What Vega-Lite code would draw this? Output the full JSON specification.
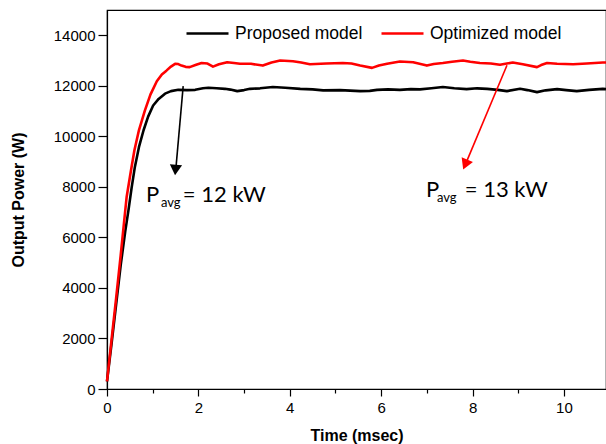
{
  "$schema": "https://vega.github.io/schema/vega-lite/v6.json",
  "autosize": "none",
  "width": 499,
  "height": 379,
  "padding": {"left": 107, "top": 10, "right": 0, "bottom": 55},
  "background": "white",
  "config": {
    "view": {"stroke": "black", "strokeWidth": 1.2},
    "axis": {"domainColor": "black", "tickColor": "black", "labelColor": "black", "titleColor": "black", "labelFont": "Liberation Sans", "titleFont": "Liberation Sans", "labelFontSize": 15, "titleFontSize": 16, "titleFontWeight": "bold", "grid": false, "domainWidth": 1.2, "tickWidth": 1.2, "labelFlush": false}
  },
  "datasets": {
    "curves": [
      {"t": 0, "p": 300, "series": "Proposed model"},
      {"t": 0.1, "p": 1800, "series": "Proposed model"},
      {"t": 0.2, "p": 3350, "series": "Proposed model"},
      {"t": 0.3, "p": 4900, "series": "Proposed model"},
      {"t": 0.4, "p": 6250, "series": "Proposed model"},
      {"t": 0.47, "p": 7080, "series": "Proposed model"},
      {"t": 0.54, "p": 7980, "series": "Proposed model"},
      {"t": 0.61, "p": 8790, "series": "Proposed model"},
      {"t": 0.7, "p": 9580, "series": "Proposed model"},
      {"t": 0.8, "p": 10240, "series": "Proposed model"},
      {"t": 0.9, "p": 10780, "series": "Proposed model"},
      {"t": 1.01, "p": 11220, "series": "Proposed model"},
      {"t": 1.13, "p": 11480, "series": "Proposed model"},
      {"t": 1.27, "p": 11690, "series": "Proposed model"},
      {"t": 1.4, "p": 11790, "series": "Proposed model"},
      {"t": 1.56, "p": 11840, "series": "Proposed model"},
      {"t": 1.75, "p": 11830, "series": "Proposed model"},
      {"t": 1.93, "p": 11840, "series": "Proposed model"},
      {"t": 2.1, "p": 11900, "series": "Proposed model"},
      {"t": 2.22, "p": 11920, "series": "Proposed model"},
      {"t": 2.4, "p": 11900, "series": "Proposed model"},
      {"t": 2.58, "p": 11880, "series": "Proposed model"},
      {"t": 2.7, "p": 11850, "series": "Proposed model"},
      {"t": 2.85, "p": 11790, "series": "Proposed model"},
      {"t": 3.0, "p": 11830, "series": "Proposed model"},
      {"t": 3.13, "p": 11880, "series": "Proposed model"},
      {"t": 3.35, "p": 11900, "series": "Proposed model"},
      {"t": 3.63, "p": 11950, "series": "Proposed model"},
      {"t": 3.9, "p": 11920, "series": "Proposed model"},
      {"t": 4.23, "p": 11880, "series": "Proposed model"},
      {"t": 4.5, "p": 11860, "series": "Proposed model"},
      {"t": 4.73, "p": 11820, "series": "Proposed model"},
      {"t": 5.1, "p": 11830, "series": "Proposed model"},
      {"t": 5.54, "p": 11790, "series": "Proposed model"},
      {"t": 5.75, "p": 11800, "series": "Proposed model"},
      {"t": 5.91, "p": 11840, "series": "Proposed model"},
      {"t": 6.15, "p": 11860, "series": "Proposed model"},
      {"t": 6.41, "p": 11840, "series": "Proposed model"},
      {"t": 6.65, "p": 11870, "series": "Proposed model"},
      {"t": 6.85, "p": 11860, "series": "Proposed model"},
      {"t": 7.1, "p": 11900, "series": "Proposed model"},
      {"t": 7.35, "p": 11950, "series": "Proposed model"},
      {"t": 7.6, "p": 11900, "series": "Proposed model"},
      {"t": 7.87, "p": 11870, "series": "Proposed model"},
      {"t": 8.1, "p": 11900, "series": "Proposed model"},
      {"t": 8.32, "p": 11880, "series": "Proposed model"},
      {"t": 8.55, "p": 11840, "series": "Proposed model"},
      {"t": 8.75, "p": 11790, "series": "Proposed model"},
      {"t": 9.04, "p": 11880, "series": "Proposed model"},
      {"t": 9.2, "p": 11830, "series": "Proposed model"},
      {"t": 9.41, "p": 11750, "series": "Proposed model"},
      {"t": 9.6, "p": 11820, "series": "Proposed model"},
      {"t": 9.85, "p": 11870, "series": "Proposed model"},
      {"t": 10.05, "p": 11830, "series": "Proposed model"},
      {"t": 10.28, "p": 11790, "series": "Proposed model"},
      {"t": 10.55, "p": 11840, "series": "Proposed model"},
      {"t": 10.85, "p": 11880, "series": "Proposed model"},
      {"t": 10.92, "p": 11870, "series": "Proposed model"},
      {"t": 0, "p": 300, "series": "Optimized model"},
      {"t": 0.1, "p": 1950, "series": "Optimized model"},
      {"t": 0.2, "p": 3600, "series": "Optimized model"},
      {"t": 0.3, "p": 5300, "series": "Optimized model"},
      {"t": 0.43, "p": 7600, "series": "Optimized model"},
      {"t": 0.52, "p": 8600, "series": "Optimized model"},
      {"t": 0.6, "p": 9450, "series": "Optimized model"},
      {"t": 0.7, "p": 10250, "series": "Optimized model"},
      {"t": 0.83, "p": 11030, "series": "Optimized model"},
      {"t": 0.95, "p": 11650, "series": "Optimized model"},
      {"t": 1.09, "p": 12180, "series": "Optimized model"},
      {"t": 1.2, "p": 12450, "series": "Optimized model"},
      {"t": 1.3, "p": 12600, "series": "Optimized model"},
      {"t": 1.4, "p": 12760, "series": "Optimized model"},
      {"t": 1.49, "p": 12870, "series": "Optimized model"},
      {"t": 1.56, "p": 12860, "series": "Optimized model"},
      {"t": 1.63, "p": 12800, "series": "Optimized model"},
      {"t": 1.72, "p": 12750, "series": "Optimized model"},
      {"t": 1.81, "p": 12740, "series": "Optimized model"},
      {"t": 1.95, "p": 12830, "series": "Optimized model"},
      {"t": 2.07, "p": 12900, "series": "Optimized model"},
      {"t": 2.2, "p": 12880, "series": "Optimized model"},
      {"t": 2.32, "p": 12760, "series": "Optimized model"},
      {"t": 2.45, "p": 12850, "series": "Optimized model"},
      {"t": 2.63, "p": 12930, "series": "Optimized model"},
      {"t": 2.78, "p": 12900, "series": "Optimized model"},
      {"t": 2.91, "p": 12870, "series": "Optimized model"},
      {"t": 3.15, "p": 12870, "series": "Optimized model"},
      {"t": 3.41, "p": 12800, "series": "Optimized model"},
      {"t": 3.6, "p": 12920, "series": "Optimized model"},
      {"t": 3.79, "p": 13000, "series": "Optimized model"},
      {"t": 4.07, "p": 12970, "series": "Optimized model"},
      {"t": 4.25, "p": 12920, "series": "Optimized model"},
      {"t": 4.44, "p": 12850, "series": "Optimized model"},
      {"t": 4.8, "p": 12880, "series": "Optimized model"},
      {"t": 5.16, "p": 12900, "series": "Optimized model"},
      {"t": 5.35, "p": 12880, "series": "Optimized model"},
      {"t": 5.54, "p": 12800, "series": "Optimized model"},
      {"t": 5.8, "p": 12710, "series": "Optimized model"},
      {"t": 5.95, "p": 12800, "series": "Optimized model"},
      {"t": 6.13, "p": 12870, "series": "Optimized model"},
      {"t": 6.41, "p": 12960, "series": "Optimized model"},
      {"t": 6.7, "p": 12930, "series": "Optimized model"},
      {"t": 7.0, "p": 12800, "series": "Optimized model"},
      {"t": 7.15, "p": 12860, "series": "Optimized model"},
      {"t": 7.35, "p": 12900, "series": "Optimized model"},
      {"t": 7.55, "p": 12950, "series": "Optimized model"},
      {"t": 7.79, "p": 13000, "series": "Optimized model"},
      {"t": 7.95, "p": 12950, "series": "Optimized model"},
      {"t": 8.16, "p": 12900, "series": "Optimized model"},
      {"t": 8.4, "p": 12880, "series": "Optimized model"},
      {"t": 8.6, "p": 12830, "series": "Optimized model"},
      {"t": 8.75, "p": 12880, "series": "Optimized model"},
      {"t": 8.88, "p": 12920, "series": "Optimized model"},
      {"t": 9.1, "p": 12850, "series": "Optimized model"},
      {"t": 9.41, "p": 12740, "series": "Optimized model"},
      {"t": 9.5, "p": 12820, "series": "Optimized model"},
      {"t": 9.63, "p": 12900, "series": "Optimized model"},
      {"t": 9.85, "p": 12870, "series": "Optimized model"},
      {"t": 10.2, "p": 12850, "series": "Optimized model"},
      {"t": 10.5, "p": 12880, "series": "Optimized model"},
      {"t": 10.85, "p": 12920, "series": "Optimized model"},
      {"t": 10.92, "p": 12920, "series": "Optimized model"}
    ],
    "arrows": [
      {"series": "Proposed model", "t": 1.667, "p": 11985, "t2": 1.51, "p2": 8783, "ht": 1.499, "hp": 8664},
      {"series": "Optimized model", "t": 8.753, "p": 12814, "t2": 7.867, "p2": 8988, "ht": 7.84, "hp": 8882}
    ],
    "labels": [
      {"t": 0.853, "p": 7400, "text": "P"},
      {"t": 1.66, "p": 7400, "text": "= 12 kW"},
      {"t": 6.98, "p": 7600, "text": "P"},
      {"t": 7.83, "p": 7600, "text": "= 13 kW"}
    ],
    "subs": [
      {"t": 1.18, "p": 7200, "text": "avg"},
      {"t": 7.22, "p": 7400, "text": "avg"}
    ]
  },
  "layer": [
    {
      "data": {"name": "curves"},
      "mark": {"type": "line", "strokeWidth": 2.6, "interpolate": "linear", "strokeJoin": "round"},
      "encoding": {
        "x": {"field": "t", "type": "quantitative", "scale": {"domain": [0, 10.92], "nice": false, "zero": false},
          "axis": {"title": "Time (msec)", "values": [0,1,2,3,4,5,6,7,8,9,10], "labelExpr": "datum.value % 2 === 0 ? datum.label : ''", "tickSize": {"condition": {"test": "datum.value % 2 === 0", "value": 7}, "value": 4}, "labelPadding": 4, "titlePadding": 12}},
        "y": {"field": "p", "type": "quantitative", "scale": {"domain": [0, 15000], "nice": false},
          "axis": {"title": "Output Power (W)", "values": [0,1000,2000,3000,4000,5000,6000,7000,8000,9000,10000,11000,12000,13000,14000], "format": "d", "labelExpr": "datum.value % 2000 === 0 ? datum.label : ''", "tickSize": {"condition": {"test": "datum.value % 2000 === 0", "value": 9}, "value": 4}, "labelPadding": 3, "titlePadding": 27}},
        "color": {"field": "series", "type": "nominal", "sort": ["Proposed model", "Optimized model"],
          "scale": {"domain": ["Proposed model", "Optimized model"], "range": ["#000000", "#ff0000"]},
          "legend": {"title": null, "orient": "none", "legendX": 78, "legendY": 1, "direction": "horizontal", "symbolType": "stroke", "symbolSize": 1764, "symbolStrokeWidth": 2.5, "labelFont": "Liberation Sans", "labelFontSize": 17.5, "labelColor": "black", "labelOffset": 5, "columnPadding": 13, "padding": 0}}
      }
    },
    {
      "data": {"name": "arrows"},
      "mark": {"type": "rule", "strokeWidth": 1.6},
      "encoding": {
        "x": {"field": "t", "type": "quantitative"},
        "y": {"field": "p", "type": "quantitative"},
        "x2": {"field": "t2"},
        "y2": {"field": "p2"},
        "color": {"field": "series", "type": "nominal", "legend": null}
      }
    },
    {
      "data": {"name": "arrows"},
      "transform": [{"filter": "datum.series === 'Proposed model'"}],
      "mark": {"type": "point", "shape": "triangle-down", "filled": true, "opacity": 1, "size": 150, "angle": 5},
      "encoding": {
        "x": {"field": "ht", "type": "quantitative"},
        "y": {"field": "hp", "type": "quantitative"},
        "color": {"field": "series", "type": "nominal", "legend": null}
      }
    },
    {
      "data": {"name": "arrows"},
      "transform": [{"filter": "datum.series === 'Optimized model'"}],
      "mark": {"type": "point", "shape": "triangle-down", "filled": true, "opacity": 1, "size": 150, "angle": 23},
      "encoding": {
        "x": {"field": "ht", "type": "quantitative"},
        "y": {"field": "hp", "type": "quantitative"},
        "color": {"field": "series", "type": "nominal", "legend": null}
      }
    },
    {
      "data": {"name": "labels"},
      "mark": {"type": "text", "font": "Lato", "fontSize": 22, "align": "left", "baseline": "alphabetic", "color": "black"},
      "encoding": {
        "x": {"field": "t", "type": "quantitative"},
        "y": {"field": "p", "type": "quantitative"},
        "text": {"field": "text"}
      }
    },
    {
      "data": {"name": "subs"},
      "mark": {"type": "text", "font": "Lato", "fontSize": 13, "align": "left", "baseline": "alphabetic", "color": "black"},
      "encoding": {
        "x": {"field": "t", "type": "quantitative"},
        "y": {"field": "p", "type": "quantitative"},
        "text": {"field": "text"}
      }
    }
  ]
}
